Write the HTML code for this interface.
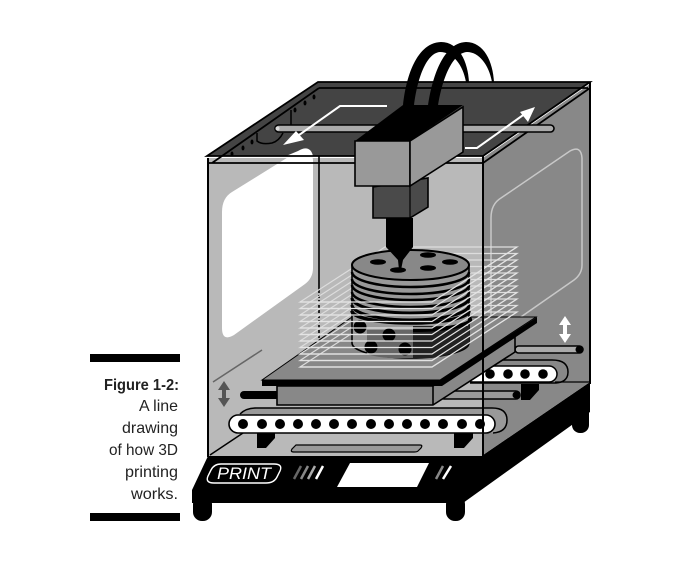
<!DOCTYPE html>
<html><head><meta charset="utf-8"><style>html,body{margin:0;padding:0;background:#fff}svg{display:block}text{font-family:"Liberation Sans",sans-serif;fill:#222}</style></head>
<body><svg width="690" height="568" viewBox="0 0 690 568" xmlns="http://www.w3.org/2000/svg">
<rect width="690" height="568" fill="#fff"/>
<!-- caption -->
<rect x="90" y="354" width="90" height="8" fill="#000"/>
<rect x="90" y="513" width="90" height="8" fill="#000"/>
<g font-size="16" text-anchor="end">
<text x="179" y="390" font-weight="bold" textLength="75" lengthAdjust="spacingAndGlyphs">Figure 1-2:</text>
<text x="178" y="411" textLength="39" lengthAdjust="spacingAndGlyphs">A line</text>
<text x="178" y="433" textLength="56" lengthAdjust="spacingAndGlyphs">drawing</text>
<text x="178" y="455" textLength="69" lengthAdjust="spacingAndGlyphs">of how 3D</text>
<text x="178" y="477" textLength="53" lengthAdjust="spacingAndGlyphs">printing</text>
<text x="178" y="499" textLength="47" lengthAdjust="spacingAndGlyphs">works.</text>
</g>
<!-- feet -->
<g fill="#000">
<rect x="193" y="495" width="19" height="26" rx="9"/>
<rect x="446" y="495" width="19" height="26" rx="9"/>
<rect x="572" y="400" width="17" height="33" rx="8"/>
</g>
<!-- base -->
<polygon points="208,456 483,455 590,382 590,412 463,503 192,503 192,490" fill="#000"/>
<!-- interior -->
<rect x="208" y="158" width="275" height="298" fill="#b9b9b9"/>
<polygon points="483,158 590,84 590,382 483,455" fill="#888"/>
<path d="M491,218 Q491,204 501,198 L570,151 Q581,145 582,158 L582,265 Q582,274 574,280 L505,328 Q491,338 491,322 Z" fill="none" stroke="#c8c8c8" stroke-width="1.5"/>
<path d="M222,212 Q222,198 232,192 L298,151 Q311,143 313,160 L313,268 Q313,278 305,284 L234,335 Q222,342 222,328 Z" fill="#fff"/>
<line x1="319" y1="82" x2="319" y2="290" stroke="#000" stroke-width="1.6"/>
<line x1="319" y1="290" x2="319" y2="338" stroke="#000" stroke-width="1.6" stroke-dasharray="3 2"/>
<line x1="213" y1="382" x2="262" y2="350" stroke="#666" stroke-width="1.5"/>
<!-- top -->
<path d="M318,82 L590,82 L483,156 L208,156 Z" fill="#444"/>
<path d="M298,151 Q310,144 313,156 L286,156 Z" fill="#fff"/>
<path d="M318,82 H590 L483,156 H207 Z" fill="none" stroke="#000" stroke-width="1.8"/>
<path d="M319,88 H588 M590,88 L483,163 M207,163 H483 M319,88 L212,163" fill="none" stroke="#000" stroke-width="1.8"/>
<path d="M291,110 V127 M257,133 V141 Q262,145 272,143 Q279,141 283,133" fill="none" stroke="#000" stroke-width="1.5"/>
<g fill="#000"><ellipse cx="314" cy="97" rx="1.5" ry="2.5"/><ellipse cx="305" cy="103" rx="1.5" ry="2.5"/><ellipse cx="295" cy="110" rx="1.5" ry="2.5"/><ellipse cx="252" cy="142" rx="1.5" ry="2.5"/><ellipse cx="243" cy="148" rx="1.5" ry="2.5"/><ellipse cx="232" cy="154" rx="1.5" ry="2.5"/></g>
<!-- rod -->
<rect x="275" y="125" width="279" height="7" rx="3.5" fill="#aaa" stroke="#000" stroke-width="1.6"/>
<circle cx="277.5" cy="128.5" r="2" fill="#ddd"/>
<!-- arrows -->
<polyline points="387,106 340,106 292,140" fill="none" stroke="#fff" stroke-width="2"/>
<polygon points="283,145 296,131 304,140" fill="#fff"/>
<polyline points="465,148 477,148 526,113" fill="none" stroke="#fff" stroke-width="2"/>
<polygon points="535,107 520,112 528,122" fill="#fff"/>
<!-- back rod and belt right -->
<rect x="515" y="346" width="68" height="7" rx="3.5" fill="#aaa" stroke="#000" stroke-width="1.6"/>
<circle cx="579" cy="349.5" r="3.5" fill="#000"/>
<path d="M470,360 H552 Q568,360 568,372 Q568,382 556,383 H470" fill="#888" stroke="#000" stroke-width="1.5"/>
<rect x="465" y="366" width="92" height="16" rx="8" fill="#fff" stroke="#000" stroke-width="1.5"/>
<g fill="#000"><circle cx="490" cy="374" r="4.8"/><circle cx="508" cy="374" r="4.8"/><circle cx="525" cy="374" r="4.8"/><circle cx="543" cy="374" r="4.8"/></g>
<line x1="555" y1="382" x2="590" y2="382" stroke="#000" stroke-width="1.2"/>
<polygon points="521,384 539,384 539,390 530,400 521,400" fill="#000"/>
<rect x="440" y="391" width="80" height="8" rx="4" fill="#999" stroke="#000" stroke-width="1.6"/>
<circle cx="516" cy="395" r="3.5" fill="#000"/>
<rect x="240" y="391" width="40" height="8" rx="4" fill="#000"/>
<!-- floor and lower belt -->
<polyline points="210,455 243,433" fill="none" stroke="#000" stroke-width="1.5"/>
<polygon points="257,433 275,433 275,438 266,448 257,448" fill="#000"/>
<polygon points="454,433 473,433 473,438 464,448 454,448" fill="#000"/>
<path d="M296,445 H420 Q423,445 421,448 L418,451 Q417,452 414,452 H294 Q290,452 292,449 Z" fill="#999" stroke="#000" stroke-width="1.2"/>
<path d="M240,414 Q246,408 256,408 H492 Q507,408 507,420 Q507,432 493,433" fill="#999" stroke="#000" stroke-width="1.5"/>
<rect x="229" y="415" width="266" height="18" rx="9" fill="#fff" stroke="#000" stroke-width="1.6"/>
<g fill="#000"><circle cx="243" cy="424" r="5"/><circle cx="262" cy="424" r="5"/><circle cx="280" cy="424" r="5"/><circle cx="298" cy="424" r="5"/><circle cx="316" cy="424" r="5"/><circle cx="334" cy="424" r="5"/><circle cx="352" cy="424" r="5"/><circle cx="371" cy="424" r="5"/><circle cx="389" cy="424" r="5"/><circle cx="407" cy="424" r="5"/><circle cx="425" cy="424" r="5"/><circle cx="443" cy="424" r="5"/><circle cx="462" cy="424" r="5"/><circle cx="480" cy="424" r="5"/></g>
<!-- double arrows -->
<path d="M224,381 L230,390 H226 V398 H230 L224,407 L218,398 H222 V390 H218 Z" fill="#555"/>
<path d="M565,316 L571,325 H567 V334 H571 L565,343 L559,334 H563 V325 H559 Z" fill="#fff"/>
<!-- platform -->
<polygon points="277,386 433,386 515,337 515,352 433,405 277,405" fill="#888" stroke="#000" stroke-width="1.6"/>
<line x1="433" y1="386" x2="433" y2="405" stroke="#000" stroke-width="1.6"/>
<polygon points="262,380 352,317 536,317 440,380" fill="#888" stroke="#000" stroke-width="1"/>
<polygon points="262,380 440,380 537,317 537,323 442,386 262,386" fill="#000"/>
<!-- white layers behind cylinder -->
<g fill="none" stroke="#ddd" stroke-width="1.2">
<polygon points="300,302 432,302 517,247 385,247"/>
<polygon points="300,308.500 432,308.500 517,253.500 385,253.500"/>
<polygon points="300,315 432,315 517,260 385,260"/>
<polygon points="300,321.500 432,321.500 517,266.500 385,266.500"/>
<polygon points="300,328 432,328 517,273 385,273"/>
<polygon points="300,334.500 432,334.500 517,279.500 385,279.500"/>
<polygon points="300,341 432,341 517,286 385,286"/>
<polygon points="300,347.500 432,347.500 517,292.500 385,292.500"/>
<polygon points="300,354 432,354 517,299 385,299"/>
<polygon points="300,360.500 432,360.500 517,305.500 385,305.500"/>
<polygon points="300,367 432,367 517,312 385,312"/>
</g>
<!-- cylinder -->
<path d="M352,265 V343 A58.500,15 0 0 0 469,343 V265 Z" fill="#999" stroke="#000" stroke-width="1.6"/>
<path d="M367,330 H413 V358 L390,358 Q375,357 367,354 Z" fill="#666"/>
<path d="M413,326 H469 V343 Q465,353 430,358 L413,358 Z" fill="#222"/>
<g fill="none" stroke="#000" stroke-width="2.500">
<path d="M352,272 A58.500,15 0 0 0 469,272"/>
<path d="M352,279 A58.500,15 0 0 0 469,279"/>
<path d="M352,285 A58.500,15 0 0 0 469,285"/>
<path d="M352,292 A58.500,15 0 0 0 469,292"/>
<path d="M352,298 A58.500,15 0 0 0 469,298" stroke-width="3"/>
<path d="M352,305 A58.500,15 0 0 0 469,305" stroke-width="3"/>
<path d="M352,311 A58.500,12 0 0 0 469,311" stroke-width="3.500"/>
<path d="M413,330 A58.500,10 0 0 0 469,318" stroke-width="4"/>
</g>
<ellipse cx="410.500" cy="265" rx="58.500" ry="15" fill="#888" stroke="#000" stroke-width="2"/>
<g fill="#000"><ellipse cx="378" cy="262" rx="8" ry="2.800"/><ellipse cx="428" cy="255" rx="8" ry="2.800"/><ellipse cx="450" cy="262" rx="8" ry="2.800"/><ellipse cx="428" cy="268" rx="8" ry="2.800"/><ellipse cx="398" cy="270" rx="8" ry="2.800"/>
<circle cx="360" cy="327" r="6.500"/><circle cx="389" cy="335" r="6.500"/><circle cx="371" cy="347" r="6.500"/><circle cx="405" cy="349" r="6.500"/></g>
<!-- white layers in front -->
<g fill="none" stroke="#e4e4e4" stroke-width="1.200">
<path d="M300,302 H432 L517,247"/><path d="M300,308.500 H432 L517,253.500"/><path d="M300,315 H432 L517,260"/><path d="M300,321.500 H432 L517,266.500"/><path d="M300,328 H432 L517,273"/><path d="M300,334.500 H432 L517,279.500"/><path d="M300,341 H432 L517,286"/><path d="M300,347.500 H432 L517,292.500"/><path d="M300,354 H432 L517,299"/><path d="M300,360.500 H432 L517,305.500"/><path d="M300,367 H432 L517,312"/>
</g>
<!-- cables -->
<path d="M403,106 C405,84 414,43 441,42 C459,42 468,62 469,82 L466,82 C463,65 453,52 440,52 C426,53 417,80 414,106 Z" fill="#000"/>
<path d="M428,106 C431,84 441,43 466,42 C484,42 493,62 494,82 L492,82 C489,65 479,52 467,52 C452,53 442,80 438,106 Z" fill="#000"/>
<!-- head -->
<polygon points="386,218 413,218 413,247 403,260 401,270 399,270 398,260 386,247" fill="#000"/>
<polygon points="373,187 428,178 428,207 410,218 373,218" fill="#4a4a4a" stroke="#000" stroke-width="1.600"/>
<line x1="410" y1="186" x2="410" y2="218" stroke="#000" stroke-width="1.200"/>
<polygon points="355,141 403,105 463,105 410,141" fill="#000"/>
<polygon points="355,141 410,141 410,186 355,186" fill="#999" stroke="#000" stroke-width="1.600"/>
<polygon points="410,141 463,107 463,152 410,186" fill="#999" stroke="#000" stroke-width="1.600"/>
<!-- frame -->
<line x1="208" y1="158" x2="208" y2="457" stroke="#000" stroke-width="2"/>
<line x1="483" y1="156" x2="483" y2="456" stroke="#000" stroke-width="2"/>
<line x1="590" y1="82" x2="590" y2="384" stroke="#000" stroke-width="2"/>
<!-- panel -->
<path d="M221,464 H274 Q283,464 280,471 L277,477 Q274,483 266,483 H214 Q205,483 208,476 L211,470 Q214,464 221,464 Z" fill="none" stroke="#fff" stroke-width="1.400"/>
<text x="244" y="479" font-size="17" font-style="italic" text-anchor="middle" textLength="54" lengthAdjust="spacingAndGlyphs" style="fill:#fff">PRINT</text>
<g stroke-width="2.500" fill="none">
<line x1="294" y1="479" x2="301" y2="466" stroke="#666"/>
<line x1="301" y1="479" x2="308" y2="466" stroke="#888"/>
<line x1="308" y1="479" x2="315" y2="466" stroke="#aaa"/>
<line x1="316" y1="479" x2="323" y2="466" stroke="#fff"/>
<line x1="436" y1="479" x2="443" y2="466" stroke="#888"/>
<line x1="443" y1="479" x2="451" y2="466" stroke="#fff"/>
</g>
<polygon points="337,487 350,463 429,463 417,487" fill="#fff"/>
</svg></body></html>
